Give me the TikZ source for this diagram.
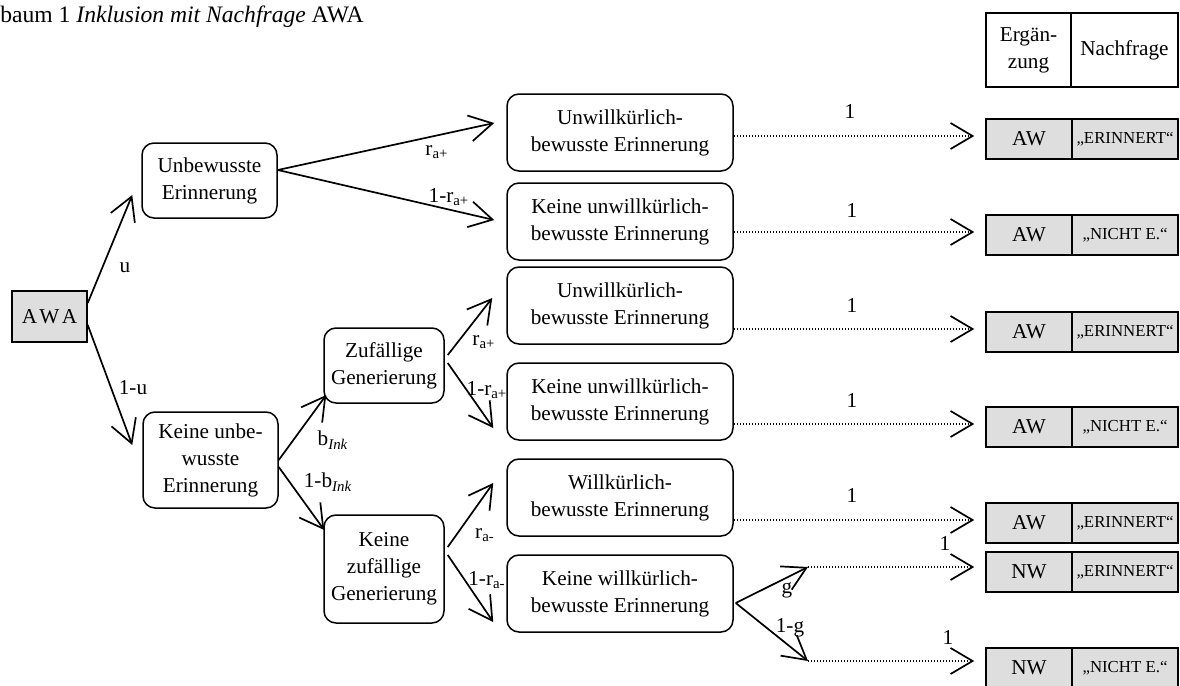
\documentclass[tikz,border=0pt]{standalone}
\usepackage{fontspec}
\setmainfont{Liberation Serif}
\usetikzlibrary{arrows.meta,calc}

\begin{document}
\begin{tikzpicture}[x=0.5pt,y=-0.5pt,
  txt/.style={font=\fontsize{10.6}{13.5}\selectfont},
  small/.style={font=\fontsize{8.4}{10}\selectfont},
  state/.style={draw,line width=0.75pt,rounded corners=6pt,align=center,inner sep=0pt,txt},
  leaf/.style={state,minimum width=113pt,minimum height=38.5pt},
  cell/.style={draw,line width=0.75pt,inner sep=0pt,align=center,txt},
  grey/.style={fill=black!13},
  arr/.style={line width=0.85pt,-{Straight Barb[length=11.5pt,width=13pt,line width=0.85pt]}},
  dotarr/.style={line width=0.7pt,dash pattern=on 0.7pt off 0.8pt,
    -{Straight Barb[length=11pt,width=13pt,line width=0.85pt,sep=0pt]}},
  lab/.style={inner sep=0pt,txt}
]
\useasboundingbox (0,0) rectangle (1180,686);

% heading
\node[anchor=base west,inner sep=0pt,font=\fontsize{11.8}{14}\selectfont] (title) at (0,22)
  {baum 1 \textit{Inklusion mit Nachfrage} AWA};

% header of the result columns
\node[cell,minimum width=42.5pt,minimum height=37pt] (hd1) at (1028.5,50) {Ergän-\\zung};
\node[cell,minimum width=53.5pt,minimum height=37pt] (hd2) at (1124.5,50) {Nachfrage};

% tree nodes
\node[cell,grey,minimum width=37.5pt,minimum height=25.5pt] (awa) at (49.5,316.5) {A\kern1.2pt W\kern1.2pt A};
\node[state,minimum width=67.5pt,minimum height=37.5pt] (unb) at (209.5,180.5) {Unbewusste\\Erinnerung};
\node[state,minimum width=67.5pt,minimum height=48pt] (kun) at (210.5,460) {Keine unbe-\\wusste\\Erinnerung};
\node[state,minimum width=60pt,minimum height=37.5pt] (zuf) at (384,365.5) {Zufällige\\Generierung};
\node[state,minimum width=60pt,minimum height=54pt] (kzu) at (384,569) {Keine\\zufällige\\Generierung};

\node[leaf] (m1) at (620,132.5) {Unwillkürlich-\\bewusste Erinnerung};
\node[leaf] (m2) at (620,221.5) {Keine unwillkürlich-\\bewusste Erinnerung};
\node[leaf] (m3) at (620,305.5) {Unwillkürlich-\\bewusste Erinnerung};
\node[leaf] (m4) at (620,401.5) {Keine unwillkürlich-\\bewusste Erinnerung};
\node[leaf] (m5) at (620,497.5) {Willkürlich-\\bewusste Erinnerung};
\node[leaf] (m6) at (620,593.5) {Keine willkürlich-\\bewusste Erinnerung};

% result rows
\foreach \i/\y/\w/\q in {1/139/AW/„ERINNERT“,2/235/AW/„NICHT E.“,3/332/AW/„ERINNERT“,
    4/427/AW/„NICHT E.“,5/523/AW/„ERINNERT“,6/572/NW/„ERINNERT“,7/668/NW/„NICHT E.“}{
  \node[cell,grey,minimum width=43pt,minimum height=20pt] (ra\i) at (1029,\y) {\w};
  \node[cell,grey,small,minimum width=53pt,minimum height=20pt] (rb\i) at (1125,\y) {\q};
}

% branches of the tree
\draw[arr] ($(awa.east)+(0,-13.5)$) -- ($(unb.west)+(-9,14.5)$);
\draw[arr] ($(awa.east)+(0,8.5)$) -- ($(kun.west)+(-10,-15)$);
\draw[arr] ($(unb.east)+(0,-10.5)$) -- ($(m1.west)+(-12,-9.5)$);
\draw[arr] ($(unb.east)+(0,-10.5)$) -- ($(m2.west)+(-12,-1.5)$);
\draw[arr] (kun.east) -- ($(zuf.west)+(3,29.5)$);
\draw[arr] ($(kun.east)+(0,7)$) -- ($(kzu.west)+(1,-39)$);
\draw[arr] ($(zuf.east)+(3,-10.5)$) -- ($(m3.west)+(-14,-7.5)$);
\draw[arr] ($(zuf.east)+(3,-2.5)$) -- ($(m4.west)+(-13,26.5)$);
\draw[arr] ($(kzu.east)+(3,-22)$) -- ($(m5.west)+(-13,-14.5)$);
\draw[arr] ($(kzu.east)+(3,-14)$) -- ($(m6.west)+(-13,28.5)$);

% guessing branch
\coordinate (gu) at (808,567);
\coordinate (gl) at (808,661);
\draw[arr] ($(m6.east)+(2,9.5)$) -- (gu);
\draw[arr] ($(m6.east)+(2,9.5)$) -- (gl);

% deterministic links to the results
\foreach \m/\i in {m1/1,m2/2,m3/3,m4/4,m5/5}{
  \draw[dotarr] (\m.east |- {$(ra\i.west)+(0,-3)$}) -- ($(ra\i.west)+(-11,-3)$);
}
\draw[dotarr] (gu) -- (gu -| {$(ra6.west)+(-11,0)$});
\draw[dotarr] (gl) -- (gl -| {$(ra7.west)+(-11,0)$});

% branch labels
\node[lab] (lu) at (125,268) {u};
\node[lab] (l1u) at (133,388) {1-u};
\node[lab] (lr1) at (437,152) {r\textsubscript{a+}};
\node[lab] (lr2) at (449,197) {1-r\textsubscript{a+}};
\node[lab] (lb) at (333,440) {b\textsubscript{\itshape Ink}};
\node[lab] (l1b) at (328,482) {1-b\textsubscript{\itshape Ink}};
\node[lab] (lr3) at (484,342) {r\textsubscript{a+}};
\node[lab] (lr4) at (487,390) {1-r\textsubscript{a+}};
\node[lab] (lr5) at (485,535) {r\textsubscript{a-}};
\node[lab] (lr6) at (487,580) {1-r\textsubscript{a-}};
\node[lab] (lg) at (787,590) {g};
\node[lab] (l1g) at (790,628) {1-g};

\foreach \n/\x/\y in {1/850/112,2/852/210,3/852/305,4/852/400,5/852/495,6/945/543,7/948/637}{
  \node[lab] (one\n) at (\x,\y) {1};
}
\end{tikzpicture}
\end{document}
